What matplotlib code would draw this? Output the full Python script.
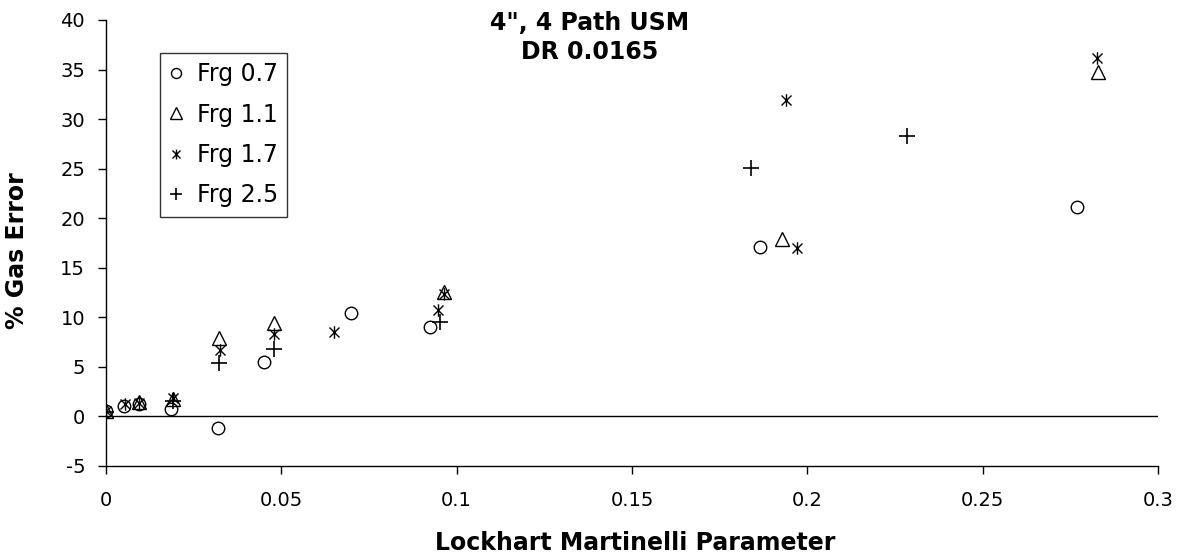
import matplotlib.pyplot as plt
from matplotlib.path import Path

# Lockhart-Martinelli parameter vs % gas error, one series per gas Froude number
x_frg07 = [0, 0.005, 0.0095, 0.0185, 0.0319, 0.045, 0.0698, 0.0925, 0.1866, 0.277]
y_frg07 = [0.5, 1.1, 1.3, 0.75, -1.15, 5.5, 10.4, 9.0, 17.1, 21.1]

x_frg11 = [0, 0.0095, 0.019, 0.0322, 0.048, 0.0963, 0.1929, 0.2829]
y_frg11 = [0.5, 1.5, 1.8, 7.9, 9.4, 12.6, 17.9, 34.8]

x_frg17 = [0, 0.0055, 0.0095, 0.019, 0.0325, 0.048, 0.065, 0.0946, 0.0963, 0.194, 0.1971, 0.2826]
y_frg17 = [0.5, 1.3, 1.4, 1.9, 6.7, 8.3, 8.5, 10.7, 12.4, 31.9, 17.0, 36.2]

x_frg25 = [0, 0.019, 0.0322, 0.048, 0.0952, 0.184, 0.2285]
y_frg25 = [0.4, 1.6, 5.4, 6.8, 9.5, 25.1, 28.3]

x_ticks = [0, 0.05, 0.1, 0.15, 0.2, 0.25, 0.3]
x_tick_labels = ['0', '0.05', '0.1', '0.15', '0.2', '0.25', '0.3']
y_ticks = [-5, 0, 5, 10, 15, 20, 25, 30, 35, 40]

# asterisk marker: an X with a vertical stroke through it
star = Path([(-1, -1), (1, 1), (-1, 1), (1, -1), (0, -1.25), (0, 1.25)],
            [Path.MOVETO, Path.LINETO, Path.MOVETO, Path.LINETO, Path.MOVETO, Path.LINETO])

plt.rcParams['font.family'] = 'DejaVu Sans'
plt.rcParams['axes.unicode_minus'] = False

fig = plt.figure(figsize=(11.84, 5.58), dpi=100)
ax = fig.add_axes([0.0895, 0.1649, 0.8885, 0.7993])

ax.plot(x_frg07, y_frg07, 'o', ms=9, mfc='none', mec='black', mew=1, label='Frg 0.7')
ax.plot(x_frg11, y_frg11, '^', ms=10, mfc='none', mec='black', mew=1, label='Frg 1.1')
ax.plot(x_frg17, y_frg17, linestyle='none', marker=star, ms=9, mfc='none', mec='black', mew=1, label='Frg 1.7')
ax.plot(x_frg25, y_frg25, '+', ms=11, mec='black', mew=1.2, label='Frg 2.5')

ax.axhline(0, color='black', lw=1)

ax.set_xlim(0, 0.3)
ax.set_ylim(-5, 40)
ax.set_xticks(x_ticks)
ax.set_xticklabels(x_tick_labels)
ax.set_yticks(y_ticks)
ax.tick_params(direction='out', length=6, width=1, labelsize=14, color='black')
ax.tick_params(axis='x', pad=12)
ax.tick_params(axis='y', pad=9)

for side in ['top', 'right']:
    ax.spines[side].set_visible(False)
for side in ['left', 'bottom']:
    ax.spines[side].set_linewidth(1)
    ax.spines[side].set_color('black')

leg = ax.legend(loc='upper left', bbox_to_anchor=(0.0513, 0.926), borderaxespad=0,
                fontsize=17, frameon=True, fancybox=False, edgecolor='black',
                handlelength=0.55, handletextpad=0.6, labelspacing=0.69,
                borderpad=0.4, markerscale=0.8)
leg.get_frame().set_linewidth(1)

fig.text(0.498, 1 - 23.5 / 558, '4", 4 Path USM', ha='center', va='center',
         fontsize=17, fontweight='bold')
fig.text(0.498, 1 - 52 / 558, 'DR 0.0165', ha='center', va='center',
         fontsize=17, fontweight='bold')
fig.text(635 / 1184, 1 - 543 / 558, 'Lockhart Martinelli Parameter', ha='center', va='center',
         fontsize=17, fontweight='bold')
fig.text(17.5 / 1184, 1 - 251 / 558, '% Gas Error', ha='center', va='center',
         rotation=90, fontsize=17, fontweight='bold')

plt.savefig('out.png', dpi=100)
plt.close()
